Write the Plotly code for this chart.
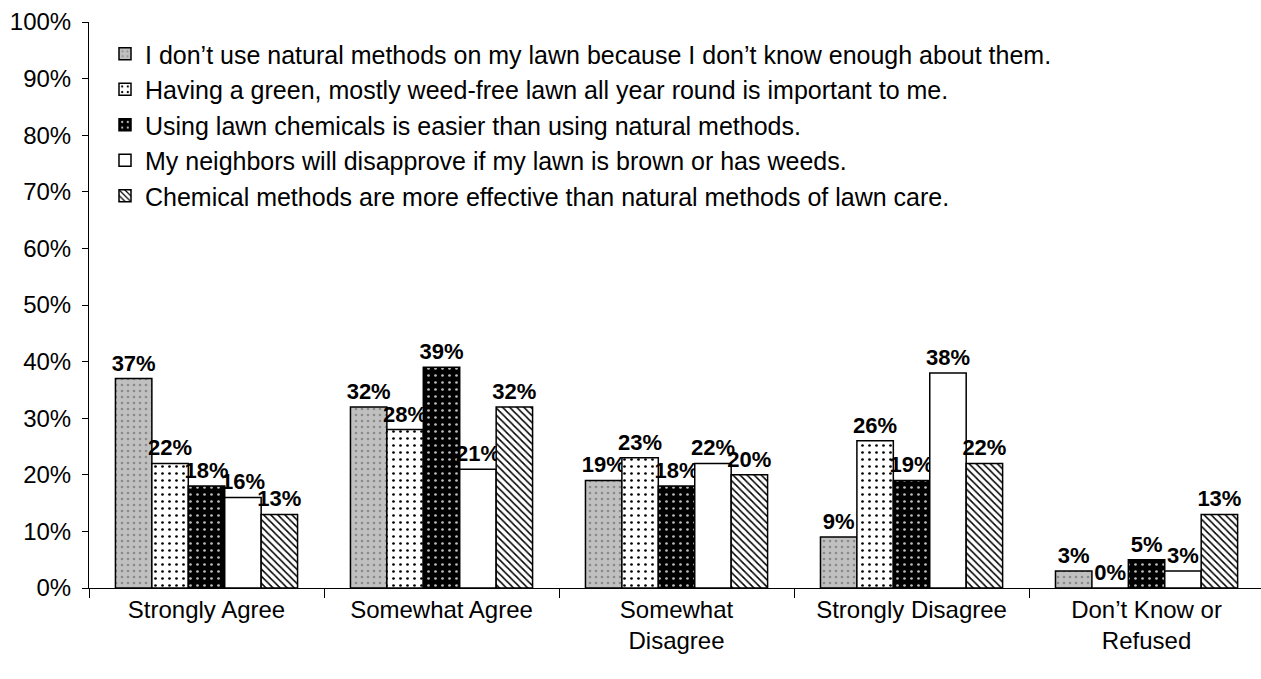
import plotly.graph_objects as go

categories = ["Strongly Agree", "Somewhat Agree", "Somewhat<br>Disagree",
              "Strongly Disagree", "Don’t Know or<br>Refused"]
series_names = [
    "I don’t use natural methods on my lawn because I don’t know enough about them.",
    "Having a green, mostly weed-free lawn all year round is important to me.",
    "Using lawn chemicals is easier than using natural methods.",
    "My neighbors will disapprove if my lawn is brown or has weeds.",
    "Chemical methods are more effective than natural methods of lawn care.",
]
s1 = [0.37, 0.32, 0.19, 0.09, 0.03]
s2 = [0.22, 0.28, 0.23, 0.26, 0.00]
s3 = [0.18, 0.39, 0.18, 0.19, 0.05]
s4 = [0.16, 0.21, 0.22, 0.38, 0.03]
s5 = [0.13, 0.32, 0.20, 0.22, 0.13]
values = [s1, s2, s3, s4, s5]

patterns = [
    dict(shape=".", bgcolor="#c0c0c0", fgcolor="#8a8a8a", size=6, solidity=0.15, fillmode="replace"),
    dict(shape=".", bgcolor="white", fgcolor="black", size=7, solidity=0.12, fillmode="replace"),
    dict(shape=".", bgcolor="black", fgcolor="#bdbdbd", size=7, solidity=0.12, fillmode="replace"),
    dict(shape="", bgcolor="white"),
    dict(shape="\\", bgcolor="white", fgcolor="black", size=5, solidity=0.3, fillmode="replace"),
]
colors = ["#c0c0c0", "white", "black", "white", "white"]

FONT = "Arial, Liberation Sans, sans-serif"
fig = go.Figure()
for i, (name, vals) in enumerate(zip(series_names, values)):
    fig.add_trace(go.Bar(
        x=categories, y=vals, name=name,
        legendgroup=f"g{i}",
        marker=dict(color=colors[i], line=dict(color="black", width=1.5),
                    pattern=patterns[i]),
        text=[f"{round(v*100)}%" for v in vals],
        textposition="outside",
        textangle=0,
        constraintext="none",
        cliponaxis=False,
        textfont=dict(family=FONT, size=22, color="black", weight="bold"),
    ))

fig.update_layout(
    width=1261, height=679,
    margin=dict(l=89, r=0, t=22, b=91),
    paper_bgcolor="white", plot_bgcolor="white",
    barmode="group", bargap=0.225, bargroupgap=0,
    font=dict(family=FONT, size=24, color="black"),
    showlegend=True,
    legend=dict(x=(105 - 89) / 1172, xref="paper", xanchor="left",
                y=1 - (31 - 22) / 566, yanchor="top",
                bgcolor="rgba(0,0,0,0)", font=dict(size=25, family=FONT, color="black"),
                traceorder="grouped", tracegroupgap=0, borderwidth=0),
    xaxis=dict(range=[-0.5, 4.487], showline=True, linecolor="black", linewidth=1,
               ticks="outside", tickson="boundaries", ticklen=9, tickcolor="black",
               tickfont=dict(family=FONT, size=24, color="black"), showgrid=False,
               zeroline=False),
    yaxis=dict(range=[0, 1.0], dtick=0.1, tickformat=".0%", showline=True,
               linecolor="black", linewidth=1, ticks="outside", ticklen=6,
               tickcolor="black", showgrid=False, zeroline=False,
               ticklabelstandoff=6,
               tickfont=dict(family=FONT, size=24, color="black")),
)

fig.write_html("out.html")
